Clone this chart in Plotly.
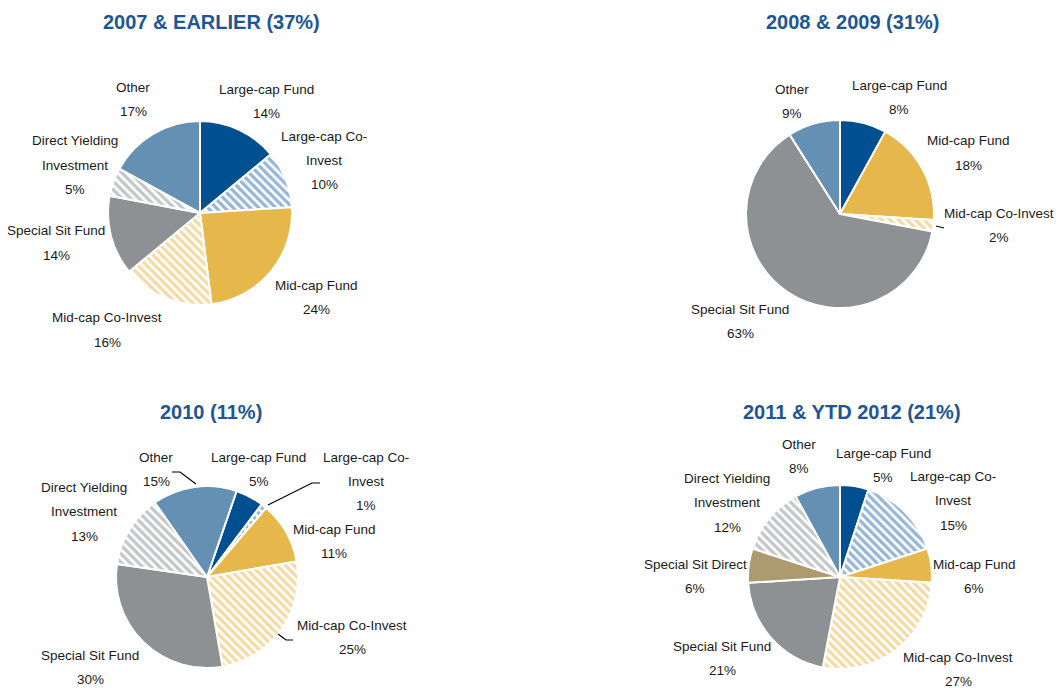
import plotly.graph_objects as go

# browser page has an 8px body margin; figure is sized to fit the window
OFF = 8
W, H = 1063 - OFF, 688 - OFF

# ---------------- data ----------------
titles = ["2007 & EARLIER (37%)", "2008 & 2009 (31%)", "2010 (11%)", "2011 & YTD 2012 (21%)"]

labels_1 = ["Large-cap Fund", "Large-cap Co-Invest", "Mid-cap Fund", "Mid-cap Co-Invest",
            "Special Sit Fund", "Direct Yielding Investment", "Other"]
values_1 = [14, 10, 24, 16, 14, 5, 17]

labels_2 = ["Large-cap Fund", "Mid-cap Fund", "Mid-cap Co-Invest", "Special Sit Fund", "Other"]
values_2 = [8, 18, 2, 63, 9]

labels_3 = ["Large-cap Fund", "Large-cap Co-Invest", "Mid-cap Fund", "Mid-cap Co-Invest",
            "Special Sit Fund", "Direct Yielding Investment", "Other"]
values_3 = [5, 1, 11, 25, 30, 13, 15]

labels_4 = ["Large-cap Fund", "Large-cap Co-Invest", "Mid-cap Fund", "Mid-cap Co-Invest",
            "Special Sit Fund", "Special Sit Direct", "Direct Yielding Investment", "Other"]
values_4 = [5, 15, 6, 27, 21, 6, 12, 8]

# ---------------- styles ----------------
STYLE = {
    "Large-cap Fund":             ("#004F91", "", None),
    "Large-cap Co-Invest":        ("#FFFFFF", "\\", "#2F6CAE"),
    "Mid-cap Fund":               ("#E6B84B", "", None),
    "Mid-cap Co-Invest":          ("#FFFFFF", "\\", "#EAB54A"),
    "Special Sit Fund":           ("#8E9194", "", None),
    "Special Sit Direct":         ("#AD9A6E", "", None),
    "Direct Yielding Investment": ("#FFFFFF", "\\", "#8C8E91"),
    "Other":                      ("#6490B4", "", None),
}

DISPLAY = {
    "Large-cap Fund": ["Large-cap Fund"],
    "Large-cap Co-Invest": ["Large-cap Co-", "Invest"],
    "Mid-cap Fund": ["Mid-cap Fund"],
    "Mid-cap Co-Invest": ["Mid-cap Co-Invest"],
    "Special Sit Fund": ["Special Sit Fund"],
    "Special Sit Direct": ["Special Sit Direct"],
    "Direct Yielding Investment": ["Direct Yielding", "Investment"],
    "Other": ["Other"],
}

# pie centre / radius in screen pixels, and start angle of the first slice
PIES = [
    (200, 213, 92),
    (840, 214, 94),
    (207, 577, 91),
    (840, 577, 92),
]
ROTATIONS = [0, 0, 19, 0]
TITLE_POS = [(211, 22), (852, 22), (211, 412), (852, 412)]

LABEL_POS = [
    {"Large-cap Fund": (266, 89), "Large-cap Co-Invest": (324, 136), "Mid-cap Fund": (316, 285),
     "Mid-cap Co-Invest": (107, 318), "Special Sit Fund": (56, 231),
     "Direct Yielding Investment": (75, 141), "Other": (133, 87)},
    {"Large-cap Fund": (899, 85), "Mid-cap Fund": (968, 141), "Mid-cap Co-Invest": (999, 213),
     "Special Sit Fund": (740, 309), "Other": (792, 89)},
    {"Large-cap Fund": (259, 457), "Large-cap Co-Invest": (366, 457), "Mid-cap Fund": (334, 529),
     "Mid-cap Co-Invest": (352, 625), "Special Sit Fund": (90, 655),
     "Direct Yielding Investment": (84, 487), "Other": (156, 457)},
    {"Large-cap Fund": (883, 453), "Large-cap Co-Invest": (953, 476), "Mid-cap Fund": (974, 564),
     "Mid-cap Co-Invest": (958, 657), "Special Sit Fund": (722, 646),
     "Special Sit Direct": (695, 564), "Direct Yielding Investment": (727, 478), "Other": (799, 444)},
]

LEADERS = [
    [(936, 226), (944, 228)],
    [(172, 472), (180, 472), (196, 484)],
    [(320, 483), (312, 483), (268, 505)],
    [(293, 640), (286, 640), (278, 634)],
]

LINE_H = 24.5
LABEL_FONT = dict(family="Liberation Sans, Arial, sans-serif", size=13.5, color="#1A1A1A")
TITLE_FONT = dict(family="Liberation Sans, Arial, sans-serif", size=20, color="#1B5696")


def px_x(x):
    return (x - OFF) / W


def px_y(y):
    return 1 - (y - OFF) / H


fig = go.Figure()
datasets = [(labels_1, values_1), (labels_2, values_2), (labels_3, values_3), (labels_4, values_4)]

annotations = []
for i, (labs, vals) in enumerate(datasets):
    cx, cy, r = PIES[i]
    colors = [STYLE[l][0] for l in labs]
    shapes_ = [STYLE[l][1] for l in labs]
    fg = [STYLE[l][2] or STYLE[l][0] for l in labs]
    fig.add_trace(go.Pie(
        labels=labs, values=vals, sort=False, direction="clockwise", rotation=ROTATIONS[i],
        textinfo="none", hoverinfo="label+value",
        marker=dict(colors=colors, line=dict(color="white", width=2),
                    pattern=dict(shape=shapes_, fgcolor=fg, bgcolor=colors,
                                 fillmode="overlay", size=6, solidity=0.55)),
        domain=dict(x=[px_x(cx - r), px_x(cx + r)], y=[px_y(cy + r), px_y(cy - r)]),
        showlegend=False,
    ))
    tx, ty = TITLE_POS[i]
    annotations.append(dict(text="<b>%s</b>" % titles[i], x=px_x(tx), y=px_y(ty), xref="paper",
                            yref="paper", showarrow=False, font=TITLE_FONT,
                            xanchor="center", yanchor="middle"))
    for lab, val in zip(labs, vals):
        lx, ly = LABEL_POS[i][lab]
        lines = DISPLAY[lab] + ["%d%%" % val]
        for k, t in enumerate(lines):
            annotations.append(dict(text=t, x=px_x(lx), y=px_y(ly + k * LINE_H), xref="paper",
                                    yref="paper", showarrow=False, font=LABEL_FONT,
                                    xanchor="center", yanchor="middle"))

shapes = []
for pts in LEADERS:
    path = "M " + " L ".join("%f,%f" % (px_x(x), px_y(y)) for x, y in pts)
    shapes.append(dict(type="path", path=path, xref="paper", yref="paper",
                       line=dict(color="black", width=1.2)))

fig.update_layout(
    width=W, height=H, margin=dict(l=0, r=0, t=0, b=0),
    paper_bgcolor="white", plot_bgcolor="white",
    annotations=annotations, shapes=shapes,
)

fig.write_html("out.html")
